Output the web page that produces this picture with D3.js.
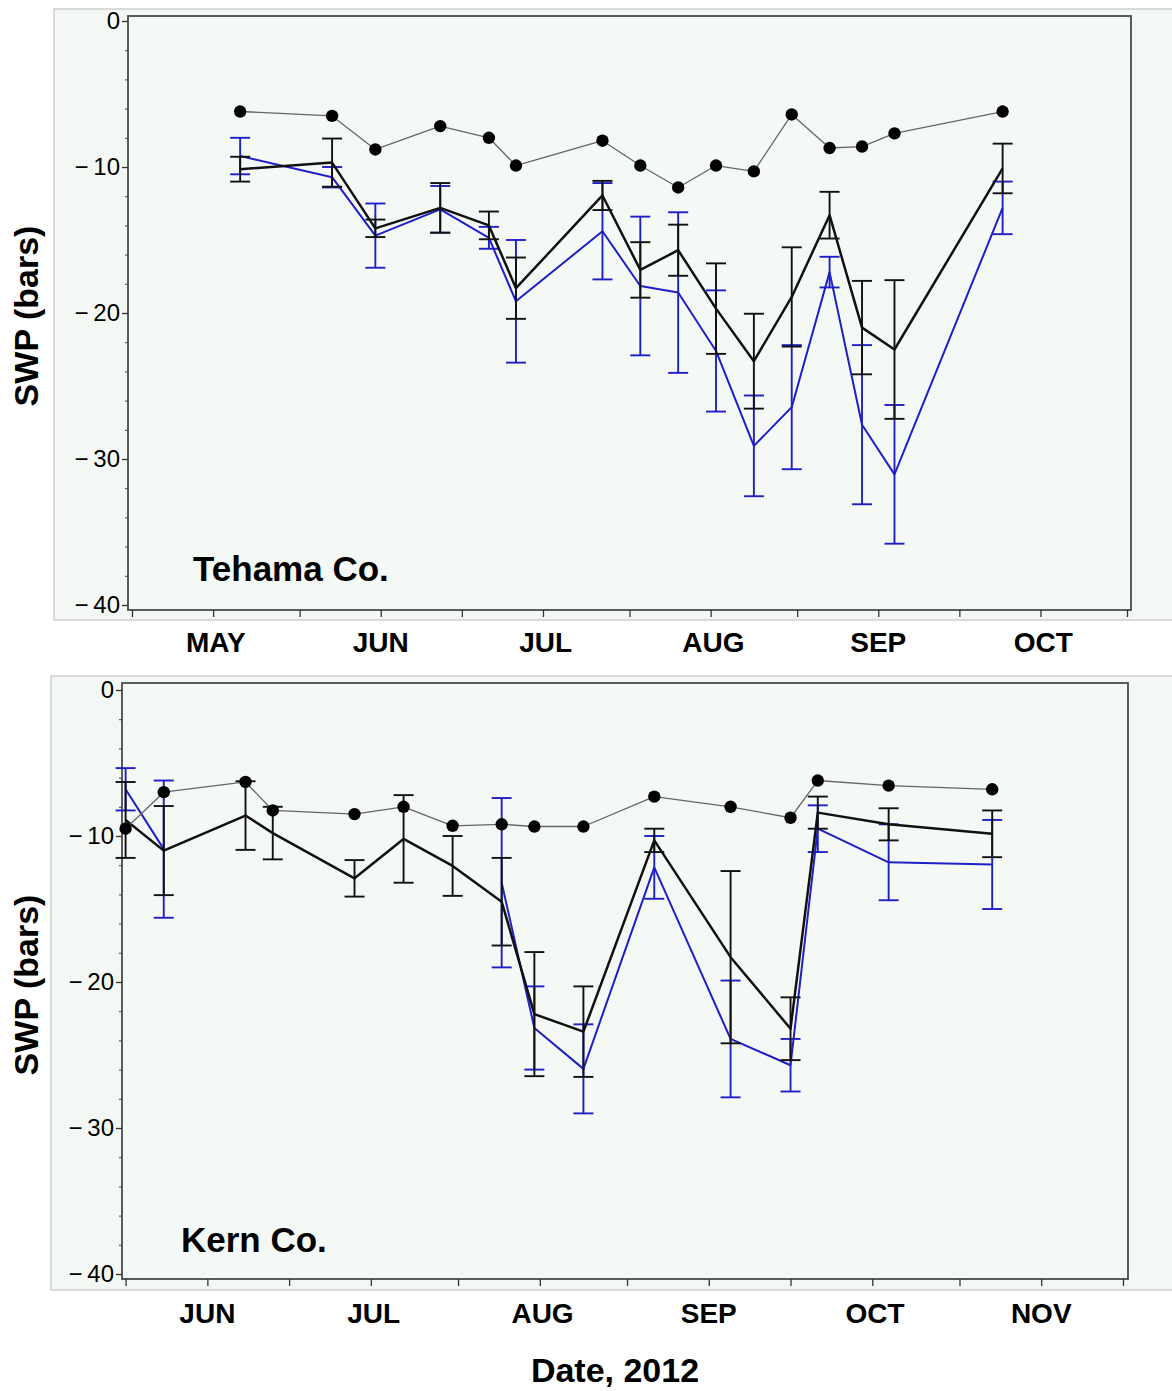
<!DOCTYPE html>
<html>
<head>
<meta charset="utf-8">
<script src="https://cdn.jsdelivr.net/npm/d3@7"></script>
<style>
  body { margin: 0; background: #fff; }
  text { font-family: "Liberation Sans", Arial, sans-serif; fill: #000; }
  .tick-label { font-size: 24px; }
  .month-label { font-size: 28px; font-weight: bold; }
  .axis-title { font-size: 34px; font-weight: bold; }
  .panel-label { font-size: 35px; font-weight: bold; }
</style>
</head>
<body>
<script>
// ---- Tehama Co. (top panel) ----
const tehamaDates = ["2012-05-21", "2012-06-07", "2012-06-15", "2012-06-27", "2012-07-06", "2012-07-11",
  "2012-07-27", "2012-08-03", "2012-08-10", "2012-08-17", "2012-08-24", "2012-08-31",
  "2012-09-07", "2012-09-13", "2012-09-19", "2012-10-09"];
const tehamaGrey = [-6.2, -6.5, -8.8, -7.2, -8.0, -9.9, -8.2, -9.9, -11.4, -9.9, -10.3, -6.4, -8.7, -8.6, -7.7, -6.2];
const tehamaBlack = [-10.15, -9.7, -14.2, -12.8, -14.0, -18.3, -11.95, -17.05, -15.7, -19.7, -23.3, -18.9, -13.3, -21.0, -22.5, -10.1];
const tehamaBlackSe = [0.85, 1.65, 0.6, 1.7, 0.95, 2.1, 1.0, 1.9, 1.75, 3.1, 3.25, 3.4, 1.6, 3.2, 4.75, 1.7];
const tehamaBlue = [-9.25, -10.7, -14.7, -12.9, -14.85, -19.2, -14.4, -18.15, -18.6, -22.6, -29.1, -26.45, -17.2, -27.65, -31.05, -12.8];
const tehamaBlueSe = [1.25, 0.7, 2.2, 1.6, 0.75, 4.2, 3.3, 4.75, 5.5, 4.15, 3.45, 4.25, 1.05, 5.45, 4.75, 1.8];

// ---- Kern Co. (bottom panel) ----
const kernDates = ["2012-06-01", "2012-06-08", "2012-06-23", "2012-06-28", "2012-07-13", "2012-07-22",
  "2012-07-31", "2012-08-09", "2012-08-15", "2012-08-24", "2012-09-06", "2012-09-20",
  "2012-10-01", "2012-10-06", "2012-10-19", "2012-11-07"];
const kernGrey = [-9.5, -7.0, -6.3, -8.25, -8.5, -8.0, -9.3, -9.2, -9.35, -9.35, -7.3, -8.0, -8.75, -6.2, -6.55, -6.8];
const kernBlack = [-8.9, -11.0, -8.6, -9.8, -12.9, -10.2, -12.05, -14.5, -22.2, -23.4, -10.3, -18.3, -23.2, -8.4, -9.2, -9.85];
const kernBlackSe = [2.6, 3.05, 2.35, 1.8, 1.25, 3.0, 2.05, 3.0, 4.25, 3.1, 0.8, 5.9, 2.15, 1.1, 1.1, 1.6];
const kernBlue = [-6.8, -10.9, null, null, null, null, null, -13.2, -23.15, -25.95, -12.15, -23.9, -25.7, -9.5, -11.8, -11.95];
const kernBlueSe = [1.45, 4.7, null, null, null, null, null, 5.8, 2.85, 3.05, 2.15, 4.0, 1.8, 1.6, 2.6, 3.05];

// axis ticks / labels
const yMajor = [0, -10, -20, -30, -40];
const tehamaMonths = ["MAY", "JUN", "JUL", "AUG", "SEP", "OCT"];
const kernMonths = ["JUN", "JUL", "AUG", "SEP", "OCT", "NOV"];

const parseDate = d3.timeParse("%Y-%m-%d");
const W = 1172, H = 1391;

const svg = d3.select("body").append("svg")
  .attr("width", W)
  .attr("height", H);

// minus sign with a little gap, like the SAS labels
const yFormat = d => d < 0 ? "\u2212\u2009" + Math.abs(d) : String(d);

function drawPanel(p) {
  const g = svg.append("g");

  // light outer box behind the plot
  g.append("rect")
    .attr("x", p.outer[0]).attr("y", p.outer[1])
    .attr("width", p.outer[2] - p.outer[0]).attr("height", p.outer[3] - p.outer[1])
    .attr("fill", "#f4f8f5")
    .attr("stroke", "#c4c4c4")
    .attr("stroke-width", 1.2);

  const x = d3.scaleTime()
    .domain([p.start, p.end])
    .range(p.xRange);
  const y = d3.scaleLinear()
    .domain([0, -40])
    .range(p.yRange);

  // plot frame
  g.append("rect")
    .attr("x", p.frame[0]).attr("y", p.frame[1])
    .attr("width", p.frame[2] - p.frame[0]).attr("height", p.frame[3] - p.frame[1])
    .attr("fill", "#f5f9f6")
    .attr("stroke", "#4a4a4a")
    .attr("stroke-width", 1.8);

  // y axis: minor ticks every 2 bars, majors every 10
  const yMinorAxis = d3.axisLeft(y).tickValues(d3.range(0, -41, -2)).tickSize(3).tickFormat("");
  g.append("g")
    .attr("transform", "translate(" + p.frame[0] + ",0)")
    .call(yMinorAxis)
    .call(a => a.select(".domain").remove())
    .selectAll("line").attr("stroke", "#444");

  const yAxis = d3.axisLeft(y).tickValues(yMajor).tickSize(6).tickPadding(2).tickFormat(yFormat);
  const ya = g.append("g")
    .attr("transform", "translate(" + p.frame[0] + ",0)")
    .call(yAxis)
    .call(a => a.select(".domain").remove());
  ya.selectAll("line").attr("stroke", "#333").attr("stroke-width", 1.3);
  ya.selectAll("text")
    .attr("class", "tick-label")
    .attr("font-size", null)
    .attr("font-family", null);

  // x axis: month starts and mid-month ticks, labels centred in each month
  const months = d3.timeMonth.range(p.start, d3.timeDay.offset(p.end, 1));
  const mids = months.slice(0, -1).map(m => new Date(m.getFullYear(), m.getMonth(), 16));
  const xAxis = d3.axisBottom(x).tickValues(months.concat(mids)).tickSize(7).tickFormat("");
  g.append("g")
    .attr("transform", "translate(0," + p.frame[3] + ")")
    .call(xAxis)
    .call(a => a.select(".domain").remove())
    .selectAll("line").attr("stroke", "#333").attr("stroke-width", 1.3);

  g.selectAll(".month-label")
    .data(p.monthNames)
    .enter()
    .append("text")
    .attr("class", "month-label")
    .attr("x", (d, i) => (x(months[i]) + x(months[i + 1])) / 2)
    .attr("y", p.monthY)
    .attr("text-anchor", "middle")
    .text(d => d);

  // y title
  g.append("text")
    .attr("class", "axis-title")
    .attr("transform", "translate(" + p.titleXY[0] + "," + p.titleXY[1] + ") rotate(-90)")
    .attr("text-anchor", "middle")
    .attr("dy", "0.35em")
    .text("SWP (bars)");

  // panel label
  g.append("text")
    .attr("class", "panel-label")
    .attr("x", p.labelXY[0])
    .attr("y", p.labelXY[1])
    .text(p.label);

  const dates = p.dates.map(parseDate);
  const rows = dates.map((d, i) => ({
    date: d,
    grey: p.grey[i],
    black: p.black[i], blackSe: p.blackSe[i],
    blue: p.blue[i], blueSe: p.blueSe[i]
  }));

  const capW = 10;
  function errorBars(key, seKey, colour) {
    const eb = g.append("g")
      .attr("stroke", colour)
      .attr("stroke-width", 1.9)
      .attr("fill", "none");
    const pts = rows.filter(r => r[key] != null);
    eb.selectAll(".v").data(pts).enter().append("line")
      .attr("x1", d => x(d.date)).attr("x2", d => x(d.date))
      .attr("y1", d => y(d[key] + d[seKey])).attr("y2", d => y(d[key] - d[seKey]));
    eb.selectAll(".t").data(pts).enter().append("line")
      .attr("x1", d => x(d.date) - capW).attr("x2", d => x(d.date) + capW)
      .attr("y1", d => y(d[key] + d[seKey])).attr("y2", d => y(d[key] + d[seKey]));
    eb.selectAll(".b").data(pts).enter().append("line")
      .attr("x1", d => x(d.date) - capW).attr("x2", d => x(d.date) + capW)
      .attr("y1", d => y(d[key] - d[seKey])).attr("y2", d => y(d[key] - d[seKey]));
  }

  function seriesLine(key, colour, width) {
    const line = d3.line()
      .defined(d => d[key] != null)
      .x(d => x(d.date))
      .y(d => y(d[key]));
    g.append("path")
      .datum(rows)
      .attr("d", line)
      .attr("fill", "none")
      .attr("stroke", colour)
      .attr("stroke-width", width)
      .attr("stroke-linejoin", "round");
  }

  errorBars("blue", "blueSe", "#1f1fc8");
  seriesLine("blue", "#1f1fc8", 2);
  errorBars("black", "blackSe", "#111");
  seriesLine("black", "#111", 2.5);

  // grey line with dots
  seriesLine("grey", "#666", 1.3);
  g.selectAll(".dot")
    .data(rows)
    .enter()
    .append("circle")
    .attr("cx", d => x(d.date))
    .attr("cy", d => y(d.grey))
    .attr("r", 6.2)
    .attr("fill", "#000");
}

drawPanel({
  outer: [54, 9, 1173, 620],
  frame: [128, 16, 1131, 610],
  start: new Date(2012, 4, 1), end: new Date(2012, 10, 1),
  xRange: [132, 1127],
  yRange: [21, 605],
  monthNames: tehamaMonths,
  monthY: 652,
  titleXY: [26, 316],
  labelXY: [193, 581],
  label: "Tehama Co.",
  dates: tehamaDates, grey: tehamaGrey,
  black: tehamaBlack, blackSe: tehamaBlackSe,
  blue: tehamaBlue, blueSe: tehamaBlueSe
});

drawPanel({
  outer: [51, 676, 1173, 1290],
  frame: [122, 683, 1128, 1279],
  start: new Date(2012, 5, 1), end: new Date(2012, 11, 1),
  xRange: [125.6, 1123],
  yRange: [690, 1274],
  monthNames: kernMonths,
  monthY: 1323,
  titleXY: [26, 985],
  labelXY: [181, 1252],
  label: "Kern Co.",
  dates: kernDates, grey: kernGrey,
  black: kernBlack, blackSe: kernBlackSe,
  blue: kernBlue, blueSe: kernBlueSe
});

svg.append("text")
  .attr("class", "axis-title")
  .attr("x", 615)
  .attr("y", 1382)
  .attr("text-anchor", "middle")
  .text("Date, 2012");
</script>
</body>
</html>
